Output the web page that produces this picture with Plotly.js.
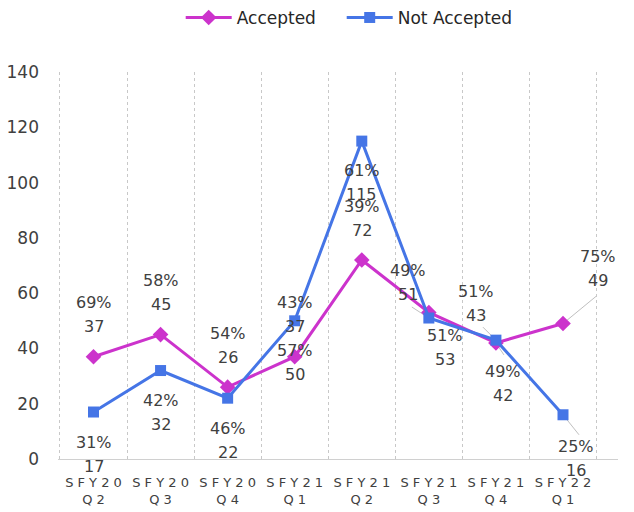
<!DOCTYPE html>
<html>
<head>
<meta charset="utf-8">
<script src="https://cdn.plot.ly/plotly-3.0.1.min.js"></script>
<style>html,body{margin:0;padding:0;background:#fff}#chart{width:634px;height:512px}</style>
</head>
<body>
<div id="chart"></div>
<script>
// ---- data ----
var categories = ["SFY20 Q2","SFY20 Q3","SFY20 Q4","SFY21 Q1","SFY21 Q2","SFY21 Q3","SFY21 Q4","SFY22 Q1"];
var accepted = [37, 45, 26, 37, 72, 53, 42, 49];
var notAccepted = [17, 32, 22, 50, 115, 51, 43, 16];
var acceptedPct = ["69%","58%","54%","43%","39%","51%","49%","75%"];
var notAcceptedPct = ["31%","42%","46%","57%","61%","49%","51%","25%"];
var yTicks = [0, 20, 40, 60, 80, 100, 120, 140];

// label placement (pixel offsets of the label centre from its point)
var accOff = [[0,54],[0,54],[0,54],[0,54],[0,53],[16,-23],[7,-29],[35,67]];
var naOff  = [[0,-30],[0,-30],[0,-30],[0,-30],[0,-29],[-21,48],[-20,49],[13,-32]];
// leader lines: [series, index, x0,y0 (pixel from point), x1,y1]
var leaders = [
  ["na",5,-17,11,0,0],
  ["na",6,-13,13,0,0],
  ["acc",6,2,-3,8,-12],
  ["acc",7,0,0,34,28],
  ["na",7,0,0,16,-20]
];

var ACC = "#CC33CC", NA = "#4575E6", TXT = "#404040";
var FONT = "'DejaVu Sans', sans-serif";

var tickText = categories.map(function(c){
  var p = c.split(" ");
  return p[0].split("").join(" ") + "<br>" + p[1].split("").join(" ");
});

var traces = [
  {x: categories, y: accepted, name: "Accepted", type: "scatter", mode: "lines+markers", legendwidth: 100,
   line: {color: ACC, width: 3}, marker: {symbol: "diamond", size: 12, color: ACC}},
  {x: categories, y: notAccepted, name: "Not Accepted", type: "scatter", mode: "lines+markers",
   line: {color: NA, width: 3}, marker: {symbol: "square", size: 11, color: NA}}
];

var annotations = [];
function addLabels(vals, pcts, offs){
  for (var i = 0; i < categories.length; i++){
    var o = offs[i];
    annotations.push({x: categories[i], y: vals[i], xref: "x", yref: "y", text: pcts[i],
      showarrow: false, xshift: o[0], yshift: o[1], font: {family: FONT, size: 16, color: TXT}});
    annotations.push({x: categories[i], y: vals[i], xref: "x", yref: "y", text: String(vals[i]),
      showarrow: false, xshift: o[0], yshift: o[1] - 24, font: {family: FONT, size: 16, color: TXT}});
  }
}
addLabels(accepted, acceptedPct, accOff);
addLabels(notAccepted, notAcceptedPct, naOff);

var shapes = leaders.map(function(l){
  var vals = l[0] === "acc" ? accepted : notAccepted;
  return {type: "line", xref: "x", yref: "y", xsizemode: "pixel", ysizemode: "pixel",
    xanchor: categories[l[1]], yanchor: vals[l[1]],
    x0: l[2], y0: l[3], x1: l[4], y1: l[5],
    line: {color: "#BFBFBF", width: 1}, layer: "below"};
});

var layout = {
  width: 634, height: 512,
  margin: {l: 58, r: 16, t: 72, b: 53},
  paper_bgcolor: "#fff", plot_bgcolor: "#fff",
  font: {family: FONT, color: TXT},
  showlegend: true,
  legend: {orientation: "h", x: 0.52, xanchor: "center", y: 0.965, yref: "container", yanchor: "middle",
    font: {family: FONT, size: 17, color: "#262626"}, itemwidth: 46, bgcolor: "rgba(0,0,0,0)"},
  xaxis: {type: "category", tickvals: categories, ticktext: tickText, tickson: "boundaries",
    showgrid: true, gridcolor: "#C8C8C8", griddash: "dot", gridwidth: 1,
    showline: true, linecolor: "#D0D0D0", linewidth: 1, ticks: "", zeroline: false,
    ticklabelstandoff: 11,
    tickfont: {family: FONT, size: 13, color: TXT}, fixedrange: true},
  yaxis: {range: [0, 140], tickvals: yTicks, showgrid: false, zeroline: false, showline: false,
    ticks: "", ticklabelstandoff: 18, tickfont: {family: FONT, size: 17, color: TXT}},
  annotations: annotations,
  shapes: shapes
};

Plotly.newPlot("chart", traces, layout, {staticPlot: true, displayModeBar: false});
</script>
</body>
</html>
